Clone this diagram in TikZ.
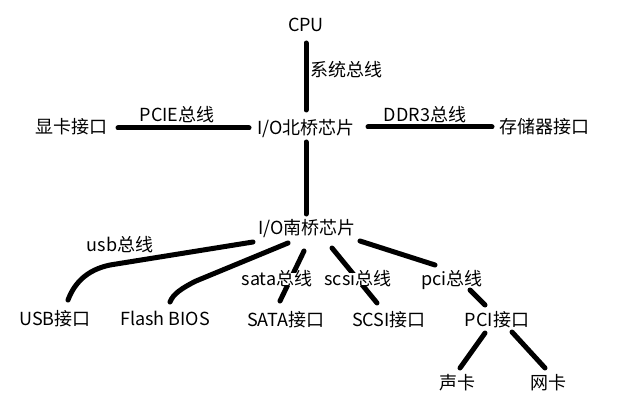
\documentclass[tikz,border=0pt]{standalone}
\usepackage{fontspec}
\setmainfont{Noto Sans CJK SC}
\begin{document}
\begin{tikzpicture}[x=1pt,y=-1pt,
  lbl/.style={inner sep=0pt,text height=13pt,text depth=0pt,font=\fontsize{18}{20}\selectfont},
  bus/.style={lbl,fill=white,inner xsep=1pt},
  wire/.style={line width=5pt,line cap=round,line join=round,black}]
\useasboundingbox (0,0) rectangle (621,409);
% nodes
\node[lbl] (cpu) at (306,25) {CPU};
\node[lbl] (nb) at (306,128) {I/O北桥芯片};
\node[lbl] (gpu) at (71,127) {显卡接口};
\node[lbl] (mem) at (544,127) {存储器接口};
\node[lbl] (sb) at (307,228) {I/O南桥芯片};
\node[lbl] (usb) at (55,319) {USB接口};
\node[lbl] (flash) at (165,319) {Flash BIOS};
\node[lbl] (sata) at (286,320) {SATA接口};
\node[lbl] (scsi) at (389,320) {SCSI接口};
\node[lbl] (pci) at (497,320) {PCI接口};
\node[lbl] (snd) at (457,383) {声卡};
\node[lbl] (net) at (548,383) {网卡};
% connector end points
\coordinate (c1) at (306,43);  \coordinate (c2) at (306,110);
\coordinate (n1) at (306,142); \coordinate (n2) at (306,214);
\coordinate (g1) at (118,128); \coordinate (g2) at (249,128);
\coordinate (m1) at (368,127); \coordinate (m2) at (492,127);
\coordinate (u1) at (253,242); \coordinate (u2) at (68,300);
\coordinate (f1) at (288,243); \coordinate (f2) at (170,302);
\coordinate (s1) at (304,251); \coordinate (s2) at (280,301);
\coordinate (q1) at (332,248); \coordinate (q2) at (377,303);
\coordinate (p1) at (360,241); \coordinate (p2) at (435,265);
\coordinate (p3) at (470,290); \coordinate (p4) at (485,305);
\coordinate (k1) at (485,333); \coordinate (k2) at (460,368);
\coordinate (w1) at (512,332); \coordinate (w2) at (545,368);
% connectors
\draw[wire] (c1) -- (c2);
\draw[wire] (n1) -- (n2);
\draw[wire] (g1) -- (g2);
\draw[wire] (m1) -- (m2);
\draw[wire] (u1) -- (110,265) .. controls (86,270) and (74,284) .. (u2);
\draw[wire] (f1) -- (196,281) .. controls (182,288) and (173,294) .. (f2);
\draw[wire] (s1) -- (s2);
\draw[wire] (q1) -- (q2);
\draw[wire] (p1) -- (p2);
\draw[wire] (p3) -- (p4);
\draw[wire] (k1) -- (k2);
\draw[wire] (w1) -- (w2);
% bus labels
\node[lbl,anchor=west] (sysbus) at (310,70) {系统总线};
\node[lbl] (pcie) at (177,115) {PCIE总线};
\node[lbl] (ddr) at (425,115) {DDR3总线};
\node[lbl] (usbbus) at (120,245) {usb总线};
\node[bus] (satabus) at (277,279) {sata总线};
\node[bus] (scsibus) at (358,279) {scsi总线};
\node[bus] (pcibus) at (452,279) {pci总线};
\end{tikzpicture}
\end{document}
